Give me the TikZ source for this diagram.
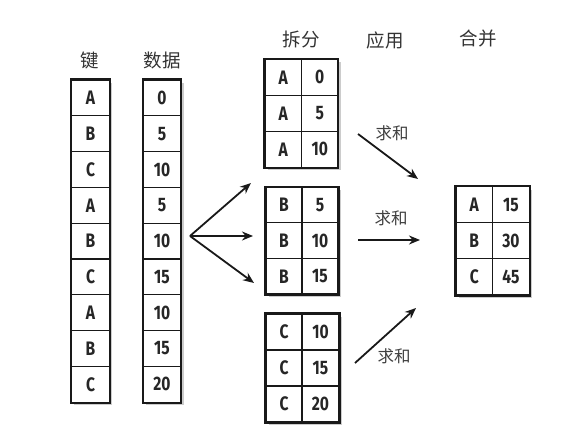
\documentclass[tikz,border=0pt]{standalone}
\usepackage{fontspec}
\setmainfont{Fira Sans}
\newfontfamily\cjk{Noto Sans CJK SC}
\newfontfamily\cellfont{Fira Sans}[FakeStretch=0.8]
\usetikzlibrary{arrows.meta}
\begin{document}
\begin{tikzpicture}[x=1pt,y=-1pt,
  cell/.style={draw=black!90, fill=white, line width=1.2pt, minimum width=36pt, minimum height=36pt,
    inner sep=0pt, font=\cellfont\bfseries\fontsize{19.5}{21}\selectfont, text=black!85},
  outer/.style={draw=black!90, line width=2.2pt},
  shadowbox/.style={fill=black!20, draw=none},
  title/.style={font=\cjk\fontsize{18.5}{20}\selectfont, text=black!80},
  lbl/.style={font=\cjk\fontsize{16.5}{18}\selectfont, text=black!75},
  arr/.style={line width=1.8pt, draw=black!90, -{Stealth[length=11pt,width=9pt]}}]
\useasboundingbox (0,0) rectangle (579,446);
\fill[white] (0,0) rectangle (579,446);

% titles
\node[title] (tk) at (90,60) {键};
\node[title] (td) at (162,60) {数据};
\node[title] (ts) at (301,40) {拆分};
\node[title] (ta) at (385,40) {应用};
\node[title] (tm) at (478,39) {合并};

% shadows
\fill[shadowbox] (74,83) rectangle (112,405);
\fill[shadowbox] (146,83) rectangle (184,405);
\fill[shadowbox] (268,62) rectangle (341,170);
\fill[shadowbox] (269,190) rectangle (341,297);
\fill[shadowbox] (269,317) rectangle (342,425);
\fill[shadowbox] (459,190) rectangle (532,298);

% key and data columns
\foreach \k [count=\i] in {A,B,C,A,B,C,A,B,C}
  \node[cell, minimum width=37.5pt, minimum height=35.8pt] (k\i) at (90.5,{80+35.8*\i-17.9}) {\k};
\foreach \d [count=\i] in {0,5,10,5,10,15,10,15,20}
  \node[cell, minimum width=37.5pt, minimum height=35.8pt] (d\i) at (162,{80+35.8*\i-17.9}) {\d};
\draw[outer] (k1.north west) rectangle (k9.south east);
\draw[outer] (d1.north west) rectangle (d9.south east);

% split groups
\foreach \v [count=\i] in {0,5,10}{
  \node[cell, minimum width=36.7pt] (ak\i) at (283.3,{59.3+36*\i-18}) {A};
  \node[cell] (av\i) at (319.7,{59.3+36*\i-18}) {\v};}
\draw[outer] (ak1.north west) rectangle (av3.south east);

\foreach \v [count=\i] in {5,10,15}{
  \node[cell, minimum height=35.6pt] (bk\i) at (284,{187.3+35.6*\i-17.8}) {B};
  \node[cell, minimum height=35.6pt] (bv\i) at (320,{187.3+35.6*\i-17.8}) {\v};}
\draw[outer] (bk1.north west) rectangle (bv3.south east);

\foreach \v [count=\i] in {10,15,20}{
  \node[cell] (ck\i) at (284,{314+36*\i-18}) {C};
  \node[cell, minimum width=37pt] (cv\i) at (320.5,{314+36*\i-18}) {\v};}
\draw[outer] (ck1.north west) rectangle (cv3.south east);

% result
\foreach \k/\v [count=\i] in {A/15,B/30,C/45}{
  \node[cell, minimum width=36.7pt, minimum height=36.1pt] (rk\i) at (474.3,{186.7+36.1*\i-18.05}) {\k};
  \node[cell, minimum width=36.6pt, minimum height=36.1pt] (rv\i) at (511,{186.7+36.1*\i-18.05}) {\v};}
\draw[outer] (rk1.north west) rectangle (rv3.south east);

% fan arrows
\coordinate (fan) at (190,236);
\coordinate (fa) at (251,183);
\coordinate (fb) at (253,236);
\coordinate (fc) at (254,283);
\draw[arr] (fan) -- (fa);
\draw[arr] (fan) -- (fb);
\draw[arr] (fan) -- (fc);

% apply arrows
\coordinate (s1) at (358,134);
\coordinate (e1) at (418,179);
\coordinate (s2) at (358,240);
\coordinate (e2) at (420,240);
\coordinate (s3) at (355,363);
\coordinate (e3) at (416,308);
\draw[arr] (s1) -- (e1);
\draw[arr] (s2) -- (e2);
\draw[arr] (s3) -- (e3);
\node[lbl] (l1) at (392,133) {求和};
\node[lbl] (l2) at (391,218) {求和};
\node[lbl] (l3) at (394,356) {求和};
\end{tikzpicture}
\end{document}
